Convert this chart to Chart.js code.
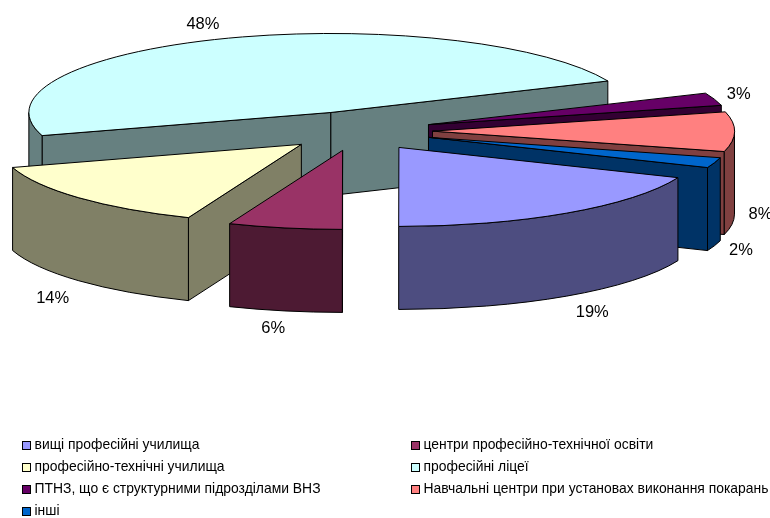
<!DOCTYPE html>
<html>
<head>
<meta charset="utf-8">
<title>Chart</title>
<script src="https://cdn.jsdelivr.net/npm/chart.js@4"></script>
<style>
  html, body { margin: 0; padding: 0; background: #ffffff; }
  #wrap { width: 770px; height: 518px; }
</style>
</head>
<body>
<div id="wrap"><canvas id="pie3d" width="770" height="518"></canvas></div>
<script>
const categories = [
  "вищі професійні училища",
  "центри професійно-технічної освіти",
  "професійно-технічні училища",
  "професійні ліцеї",
  "ПТНЗ, що є структурними підрозділами ВНЗ",
  "Навчальні центри при установах виконання покарань",
  "інші"
];
const shares = [18.8, 6.1, 14.2, 48.3, 2.6, 8.1, 2.1];
const topColors = ["#9999FF", "#993366", "#FFFFCC", "#CCFFFF", "#660066", "#FF8080", "#0066CC"];
const wallColors = ["#4D4D80", "#4D1A33", "#808066", "#668080", "#330033", "#804040", "#003366"];

// how the flat pie is turned into the tilted one
const tilt = 0.2616;
const depth = 83;
const explode = 75.5;

// small corrections for the percent labels, one per slice
const labelNudge = [[9, 10], [-6, 10], [-4, 12], [-13, -7], [-4, -2], [-4, 0], [-2, 2]];

const fontName = '"Liberation Sans", Arial, sans-serif';

const pie3d = {
  id: "pie3d",
  beforeDatasetDraw(chart, args) {
    const ctx = chart.ctx;
    const arcs = args.meta.data;

    // back slices first
    const order = arcs.map((a, i) => i).sort((p, q) => {
      const mid = i => (arcs[i].startAngle + arcs[i].endAngle) / 2;
      return Math.sin(mid(p)) - Math.sin(mid(q));
    });

    ctx.save();
    ctx.lineWidth = 1;
    ctx.strokeStyle = "#000000";
    ctx.lineJoin = "round";
    order.forEach(i => drawSlice(ctx, arcs[i], topColors[i], wallColors[i]));
    ctx.restore();

    drawLabels(ctx, arcs);
    drawLegend(ctx);
    return false;
  }
};

function drawSlice(ctx, arc, top, wall) {
  const a0 = arc.startAngle, a1 = arc.endAngle, r = arc.outerRadius;
  const mid = (a0 + a1) / 2;
  const ax = arc.x + Math.cos(mid) * explode;
  const ay = arc.y + Math.sin(mid) * explode * tilt;
  const rimX = t => ax + Math.cos(t) * r;
  const rimY = t => ay + Math.sin(t) * r * tilt;

  const cutWall = t => {
    ctx.beginPath();
    ctx.moveTo(ax, ay);
    ctx.lineTo(rimX(t), rimY(t));
    ctx.lineTo(rimX(t), rimY(t) + depth);
    ctx.lineTo(ax, ay + depth);
    ctx.closePath();
    ctx.fillStyle = wall;
    ctx.fill();
    ctx.stroke();
  };

  // only the cut faces that look to the viewer
  if (Math.cos(a0) < 0) cutWall(a0);
  if (Math.cos(a1) > 0) cutWall(a1);

  // rim wall: the part of the arc on the near half of the ellipse
  const full = Math.PI * 2;
  for (const k of [-1, 0, 1]) {
    const from = Math.max(a0, k * full);
    const to = Math.min(a1, k * full + Math.PI);
    if (to <= from) continue;
    ctx.beginPath();
    ctx.ellipse(ax, ay, r, r * tilt, 0, from, to);
    ctx.ellipse(ax, ay + depth, r, r * tilt, 0, to, from, true);
    ctx.closePath();
    ctx.fillStyle = wall;
    ctx.fill();
    ctx.stroke();
  }

  ctx.beginPath();
  ctx.moveTo(ax, ay);
  ctx.ellipse(ax, ay, r, r * tilt, 0, a0, a1);
  ctx.closePath();
  ctx.fillStyle = top;
  ctx.fill();
  ctx.stroke();
}

function drawLabels(ctx, arcs) {
  ctx.save();
  ctx.font = "16.5px " + fontName;
  ctx.fillStyle = "#000000";
  ctx.textAlign = "center";
  ctx.textBaseline = "middle";
  arcs.forEach((arc, i) => {
    const mid = (arc.startAngle + arc.endAngle) / 2;
    const dist = arc.outerRadius + explode + 30;
    const x = arc.x + Math.cos(mid) * dist + labelNudge[i][0];
    let y = arc.y + Math.sin(mid) * dist * tilt + labelNudge[i][1];
    if (Math.sin(mid) > -0.05) y += depth;
    ctx.fillText(Math.round(shares[i]) + "%", x, y);
  });
  ctx.restore();
}

function drawLegend(ctx) {
  ctx.save();
  ctx.font = "13.9px " + fontName;
  ctx.textAlign = "left";
  ctx.textBaseline = "middle";
  ctx.lineWidth = 1;
  categories.forEach((name, i) => {
    const col = i % 2, row = Math.floor(i / 2);
    const x = col === 0 ? 22 : 411;
    const y = 445 + row * 22;
    ctx.fillStyle = topColors[i];
    ctx.strokeStyle = "#000000";
    ctx.fillRect(x + 0.5, y - 3.5, 8, 8);
    ctx.strokeRect(x + 0.5, y - 3.5, 8, 8);
    ctx.fillStyle = "#000000";
    ctx.fillText(name, x + 12.5, y + 0.5);
  });
  ctx.restore();
}

new Chart(document.getElementById("pie3d"), {
  type: "pie",
  data: {
    labels: categories,
    datasets: [{
      data: shares,
      backgroundColor: topColors
    }]
  },
  options: {
    responsive: false,
    animation: false,
    events: [],
    rotation: 112.5,
    radius: 302,
    layout: { padding: { right: 56, bottom: 256 } },
    plugins: {
      legend: { display: false },
      tooltip: { enabled: false }
    }
  },
  plugins: [pie3d]
});
</script>
</body>
</html>
